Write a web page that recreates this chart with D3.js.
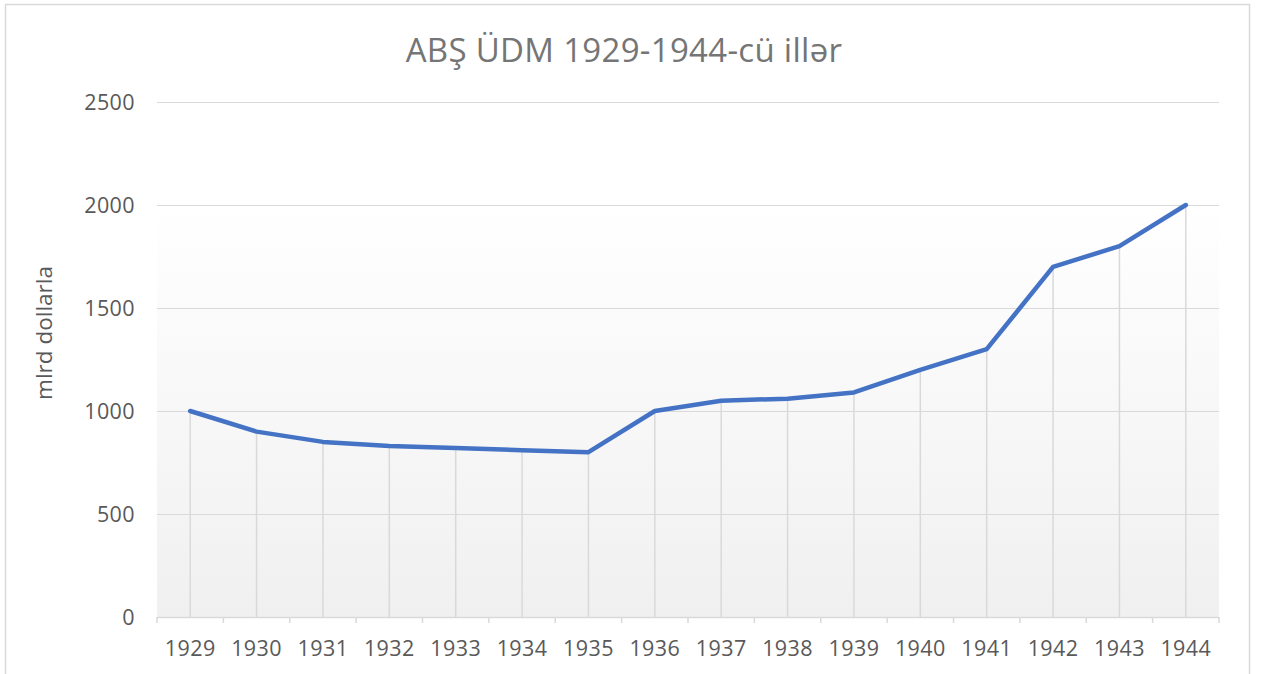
<!DOCTYPE html>
<html>
<head>
<meta charset="utf-8">
<script src="https://cdn.jsdelivr.net/npm/d3@7"></script>
<style>
  body { margin: 0; background: #fff; }
  svg { display: block; font-family: "Open Sans", sans-serif; }
</style>
</head>
<body>
<svg id="chart" width="1265" height="674"></svg>
<script>
var years = ["1929","1930","1931","1932","1933","1934","1935","1936","1937","1938","1939","1940","1941","1942","1943","1944"];
var gdp = [1000, 900, 850, 830, 820, 810, 800, 1000, 1050, 1060, 1090, 1200, 1300, 1700, 1800, 2000];
var yTicks = [0, 500, 1000, 1500, 2000, 2500];

var svg = d3.select("#chart");
var plotL = 157, plotR = 1219, plotT = 102, plotB = 617;

// outer frame
svg.append("rect").attr("x", 5.5).attr("y", 4.5).attr("width", 1244).attr("height", 700)
   .attr("fill", "#fff").attr("stroke", "#d9d9d9").attr("stroke-width", 1.5);

var defs = svg.append("defs");
var grad = defs.append("linearGradient").attr("id", "bg").attr("x1", 0).attr("y1", 0).attr("x2", 0).attr("y2", 1);
grad.append("stop").attr("offset", "0%").attr("stop-color", "#ffffff");
grad.append("stop").attr("offset", "20%").attr("stop-color", "#ffffff");
grad.append("stop").attr("offset", "100%").attr("stop-color", "#f0f0f0");

var x = d3.scaleBand().domain(years).range([plotL, plotR]);
var y = d3.scaleLinear().domain([0, 2500]).range([plotB, plotT]);

svg.append("rect").attr("x", plotL).attr("y", plotT).attr("width", plotR - plotL).attr("height", plotB - plotT)
   .attr("fill", "url(#bg)");

// horizontal gridlines
svg.append("g").selectAll("line").data(yTicks.slice(1)).enter().append("line")
   .attr("x1", plotL).attr("x2", plotR)
   .attr("y1", function(d) { return y(d) + 0.5; })
   .attr("y2", function(d) { return y(d) + 0.5; })
   .attr("stroke", "#d9d9d9").attr("stroke-width", 1);

// y tick labels
svg.append("g").selectAll("text").data(yTicks).enter().append("text")
   .attr("x", 135).attr("y", function(d) { return y(d); })
   .attr("dy", "0.35em").attr("text-anchor", "end")
   .attr("font-size", 21.5).attr("fill", "#595959").attr("letter-spacing", 0.4)
   .text(function(d) { return d; });

// drop lines
svg.append("g").selectAll("line").data(years).enter().append("line")
   .attr("x1", function(d) { return x(d) + x.bandwidth() / 2; })
   .attr("x2", function(d) { return x(d) + x.bandwidth() / 2; })
   .attr("y1", function(d, i) { return y(gdp[i]); })
   .attr("y2", plotB)
   .attr("stroke", "#d9d9d9").attr("stroke-width", 1.5);

// x axis
var xAxis = svg.append("g").attr("transform", "translate(0," + plotB + ")");
xAxis.append("line").attr("x1", plotL).attr("x2", plotR).attr("y1", 0.5).attr("y2", 0.5)
   .attr("stroke", "#d9d9d9").attr("stroke-width", 1.5);
var bounds = years.map(function(d) { return x(d); }).concat([plotR]);
xAxis.selectAll(".tk").data(bounds).enter().append("line")
   .attr("x1", function(d) { return d; }).attr("x2", function(d) { return d; })
   .attr("y1", 0).attr("y2", 6)
   .attr("stroke", "#d9d9d9").attr("stroke-width", 1.5);
xAxis.selectAll("text").data(years).enter().append("text")
   .attr("x", function(d) { return x(d) + x.bandwidth() / 2; })
   .attr("y", 31).attr("dy", "0.35em").attr("text-anchor", "middle")
   .attr("font-size", 21.5).attr("fill", "#595959").attr("letter-spacing", 0.4)
   .text(function(d) { return d; });

// line
var line = d3.line()
   .x(function(d, i) { return x(years[i]) + x.bandwidth() / 2; })
   .y(function(d) { return y(d); });
svg.append("path").datum(gdp).attr("d", line)
   .attr("fill", "none").attr("stroke", "#4472c4").attr("stroke-width", 4.5)
   .attr("stroke-linejoin", "round").attr("stroke-linecap", "round");

// title
svg.append("text").attr("x", 624).attr("y", 50).attr("dy", "0.35em").attr("text-anchor", "middle")
   .attr("font-size", 33).attr("fill", "#757575").attr("letter-spacing", 0.3)
   .text("ABŞ ÜDM 1929-1944-cü illər");

// y axis title
svg.append("text").attr("transform", "translate(44,333) rotate(-90)")
   .attr("text-anchor", "middle").attr("dy", "0.35em")
   .attr("font-size", 22.5).attr("fill", "#595959").text("mlrd dollarla");
</script>
</body>
</html>
